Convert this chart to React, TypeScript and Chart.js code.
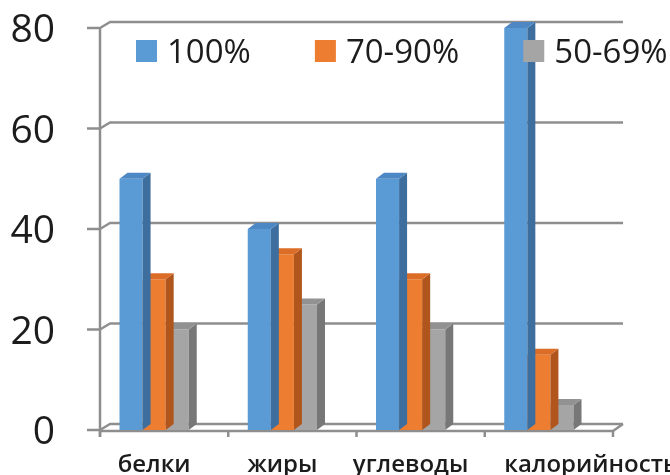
import { useEffect, useRef } from "react";
import { Chart, registerables } from "chart.js";

Chart.register(...registerables);

// ---- data ----
const categories = ["белки", "жиры", "углеводы", "калорийность"];
const seriesNames = ["100%", "70-90%", "50-69%"];
const share100 = [50, 40, 50, 80];
const share70to90 = [30, 35, 30, 15];
const share50to69 = [20, 25, 20, 5];
const yTicks = [0, 20, 40, 60, 80];

// ---- look ----
const FONT = "'Open Sans', 'DejaVu Sans', sans-serif";
const TEXT = "#1c1c1c";
const GRID = "#8e8e8e";
const shades = [
  { front: "#5B9BD5", side: "#3E6E9E", top: "#4E88C4" },
  { front: "#ED7D31", side: "#B0561D", top: "#DB6D27" },
  { front: "#A5A5A5", side: "#777777", top: "#929292" },
];
const BAR_DX = 8; // bar depth, projected
const BAR_DY = 6;
const WALL_DX = 10; // wall depth, projected
const WALL_DY = 6;
const FRONT_SHIFT = 10; // floor front edge sits right of the bar plane
const TICK_LEN = 13;

const wallPlugin = {
  id: "wall3d",
  beforeDatasetsDraw(chart: any) {
    const { ctx, chartArea } = chart;
    const y = chart.scales.y;
    const x = chart.scales.x;
    const n = categories.length;
    const cat = (chartArea.right - chartArea.left) / n;
    const axisX = chartArea.left + FRONT_SHIFT;
    const frontRight = chartArea.right + FRONT_SHIFT;
    const backRight = frontRight + WALL_DX;
    const y0 = y.getPixelForValue(0);
    ctx.save();
    ctx.strokeStyle = GRID;
    ctx.lineWidth = 2.5;
    ctx.lineJoin = "round";
    // gridlines on the back wall with their connectors on the side wall
    yTicks.forEach((v) => {
      const py = y.getPixelForValue(v);
      ctx.beginPath();
      ctx.moveTo(axisX - TICK_LEN, py);
      ctx.lineTo(axisX, py);
      ctx.lineTo(axisX + WALL_DX, py - WALL_DY);
      ctx.lineTo(backRight, py - WALL_DY);
      ctx.stroke();
    });
    // vertical axis edge
    ctx.beginPath();
    ctx.moveTo(axisX, y.getPixelForValue(yTicks[yTicks.length - 1]));
    ctx.lineTo(axisX, y0 + 7);
    ctx.stroke();
    // floor front edge and its right end
    ctx.beginPath();
    ctx.moveTo(axisX, y0 + 1);
    ctx.lineTo(frontRight, y0 + 1);
    ctx.lineTo(backRight, y0 - WALL_DY);
    ctx.stroke();
    // category ticks under the floor
    for (let i = 0; i <= n; i++) {
      const px = x.getPixelForValue(0) - cat / 2 + i * cat + FRONT_SHIFT;
      ctx.beginPath();
      ctx.moveTo(px, y0 + 1);
      ctx.lineTo(px, y0 + 7);
      ctx.stroke();
    }
    ctx.restore();
  },
  afterDatasetDraw(chart: any, args: any) {
    const { ctx } = chart;
    const shade = shades[args.index];
    ctx.save();
    args.meta.data.forEach((bar: any) => {
      const { x, y, base, width } = bar.getProps(["x", "y", "base", "width"], true);
      const l = x - width / 2;
      const r = x + width / 2;
      // side face
      ctx.fillStyle = shade.side;
      ctx.beginPath();
      ctx.moveTo(r, y);
      ctx.lineTo(r + BAR_DX, y - BAR_DY);
      ctx.lineTo(r + BAR_DX, base - BAR_DY);
      ctx.lineTo(r, base);
      ctx.closePath();
      ctx.fill();
      // top face
      ctx.fillStyle = shade.top;
      ctx.beginPath();
      ctx.moveTo(l, y);
      ctx.lineTo(l + BAR_DX, y - BAR_DY);
      ctx.lineTo(r + BAR_DX, y - BAR_DY);
      ctx.lineTo(r, y);
      ctx.closePath();
      ctx.fill();
    });
    ctx.restore();
  },
};

const labelsPlugin = {
  id: "categoryLabels",
  afterDraw(chart: any) {
    const { ctx, chartArea } = chart;
    const x = chart.scales.x;
    const cat = (chartArea.right - chartArea.left) / categories.length;
    const first = chart.getDatasetMeta(0).data;
    ctx.save();
    ctx.font = `600 24px ${FONT}`;
    ctx.fillStyle = TEXT;
    ctx.textBaseline = "alphabetic";
    categories.forEach((label, i) => {
      const w = ctx.measureText(label).width;
      const cx = x.getPixelForValue(i);
      let left = cx - w / 2;
      // labels wider than their slot start at the group's first bar
      if (w > cat) {
        const b = first[i];
        left = b.x - b.width / 2;
      }
      ctx.textAlign = "left";
      ctx.fillText(label, left, chartArea.bottom + 42);
    });
    ctx.restore();
  },
};

const legendPlugin = {
  id: "insetLegend",
  afterDraw(chart: any) {
    const { ctx } = chart;
    let px = 136;
    const boxW = 21;
    const boxH = 22;
    const boxTop = 40;
    const baseline = 63;
    ctx.save();
    ctx.font = `400 33px ${FONT}`;
    ctx.textBaseline = "alphabetic";
    ctx.textAlign = "left";
    chart.data.datasets.forEach((ds: any) => {
      ctx.fillStyle = ds.backgroundColor;
      ctx.fillRect(px, boxTop, boxW, boxH);
      px += boxW + 10;
      ctx.fillStyle = TEXT;
      ctx.fillText(ds.label, px, baseline);
      px += ctx.measureText(ds.label).width + 64;
    });
    ctx.restore();
  },
};

export default function App() {
  const ref = useRef<HTMLCanvasElement | null>(null);

  useEffect(() => {
    if (!ref.current) return;
    Chart.defaults.font.family = FONT;
    const values = [share100, share70to90, share50to69];
    const chart = new Chart(ref.current, {
      type: "bar",
      data: {
        labels: categories,
        datasets: seriesNames.map((name, i) => ({
          label: name,
          data: values[i],
          backgroundColor: shades[i].front,
          borderWidth: 0,
          categoryPercentage: 0.54,
          barPercentage: 1,
        })),
      },
      options: {
        responsive: false,
        animation: false,
        layout: { padding: { top: 28, bottom: 45, left: 0, right: 67 } },
        plugins: {
          legend: { display: false },
          tooltip: { enabled: false },
        },
        scales: {
          x: { display: false },
          y: {
            min: 0,
            max: 80,
            grid: { display: false, drawTicks: false },
            border: { display: false },
            ticks: {
              stepSize: 20,
              padding: 35,
              labelOffset: 3,
              color: TEXT,
              font: { size: 39, family: FONT },
            },
            afterFit(scale: any) {
              scale.width = 90;
              scale.paddingTop = 0;
              scale.paddingBottom = 0;
            },
          },
        },
      },
      plugins: [wallPlugin, labelsPlugin, legendPlugin],
    });
    return () => chart.destroy();
  }, []);

  return (
    <div style={{ position: "fixed", left: 0, top: 0, width: 670, height: 475, background: "#fff" }}>
      <canvas ref={ref} width={670} height={475} style={{ width: 670, height: 475 }} />
    </div>
  );
}
